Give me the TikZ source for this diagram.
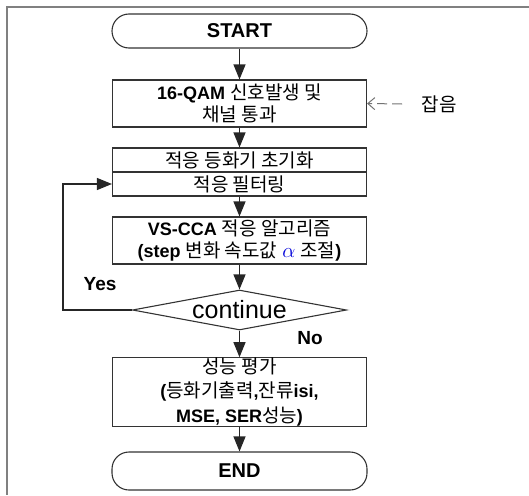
\documentclass[tikz,border=0pt]{standalone}
\usepackage{fontspec}
\setmainfont{Liberation Sans}
\newfontfamily\krfont{Noto Sans CJK KR}
\usetikzlibrary{arrows.meta,shapes.geometric}
\newcommand{\kor}[1]{{\krfont\mdseries\fontsize{19}{22}\selectfont #1}}
\begin{document}
\begin{tikzpicture}[x=1pt,y=-1pt,
  linec/.style={draw=black!80,line width=1.1pt},
  box/.style={linec,rectangle,minimum width=254pt,inner xsep=2pt,inner ysep=0pt,align=center,
              font=\bfseries\fontsize{18}{22}\selectfont},
  term/.style={linec,rectangle,rounded corners=17pt,minimum width=255pt,
               font=\bfseries\fontsize{20}{24}\selectfont},
  flow/.style={draw=black!85,line width=1.1pt,-{Triangle[length=15pt,width=12pt]}},
  lbl/.style={font=\bfseries\fontsize{19}{22}\selectfont},
  frame/.style={draw=black!50,line width=2pt}
]
\useasboundingbox (0,0) rectangle (529,495);
\draw[frame] (529,7) -- (7,7) -- (7,495);

\node[term,minimum height=34pt] (start) at (239.5,31) {START};
\node[box,minimum height=47pt] (b1) at (239.5,103.5) {16-QAM \kor{신호발생 및}\\\kor{채널 통과}};
\node[box,minimum height=24pt] (b2a) at (239.5,160) {\kor{적응 등화기 초기화}};
\node[box,minimum height=24pt] (b2b) at (239.5,184) {\kor{적응 필터링}};
\node[box,minimum height=47pt] (b3) at (239.5,240.5) {VS-CCA \kor{적응 알고리즘}\\(step \kor{변화 속도값} {\color{blue!85!black}\fontsize{22}{22}\selectfont$\alpha$} \kor{조절})};
\node[linec,diamond,aspect=5.35,minimum width=214pt,minimum height=40pt,inner sep=0pt,
      font=\fontsize{25}{25}\selectfont] (dec) at (239.5,310) {continue};
\node[box,minimum height=68pt,font=\bfseries\fontsize{18}{24.5}\selectfont] (b4) at (239.5,392)
  {\kor{성능 평가}\\(\kor{등화기출력},\kor{잔류}isi,\\MSE, SER\kor{성능})};
\node[term,minimum height=38pt] (end) at (239.5,471) {END};

\node[lbl] (yes) at (100,284) {Yes};
\node[lbl] (no) at (310,338) {No};
\node (noise) at (439,104) {\kor{잡음}};
\coordinate (nz) at (402,104);
\coordinate (lp) at (63,310);

\draw[flow] (start) -- (b1);
\draw[flow] (b1) -- (b2a);
\draw[flow] (b2b) -- (b3);
\draw[flow] (b3) -- (dec);
\draw[flow] (dec) -- (b4);
\draw[flow] (b4) -- (end);
\draw[flow] (dec.west) -- (lp) |- (b2b.west);
\draw[draw=black!55,line width=1pt,dash pattern=on 10pt off 5pt,
      -{Straight Barb[length=7pt,width=12pt]}] (nz) -- (b1.east);
\end{tikzpicture}
\end{document}
